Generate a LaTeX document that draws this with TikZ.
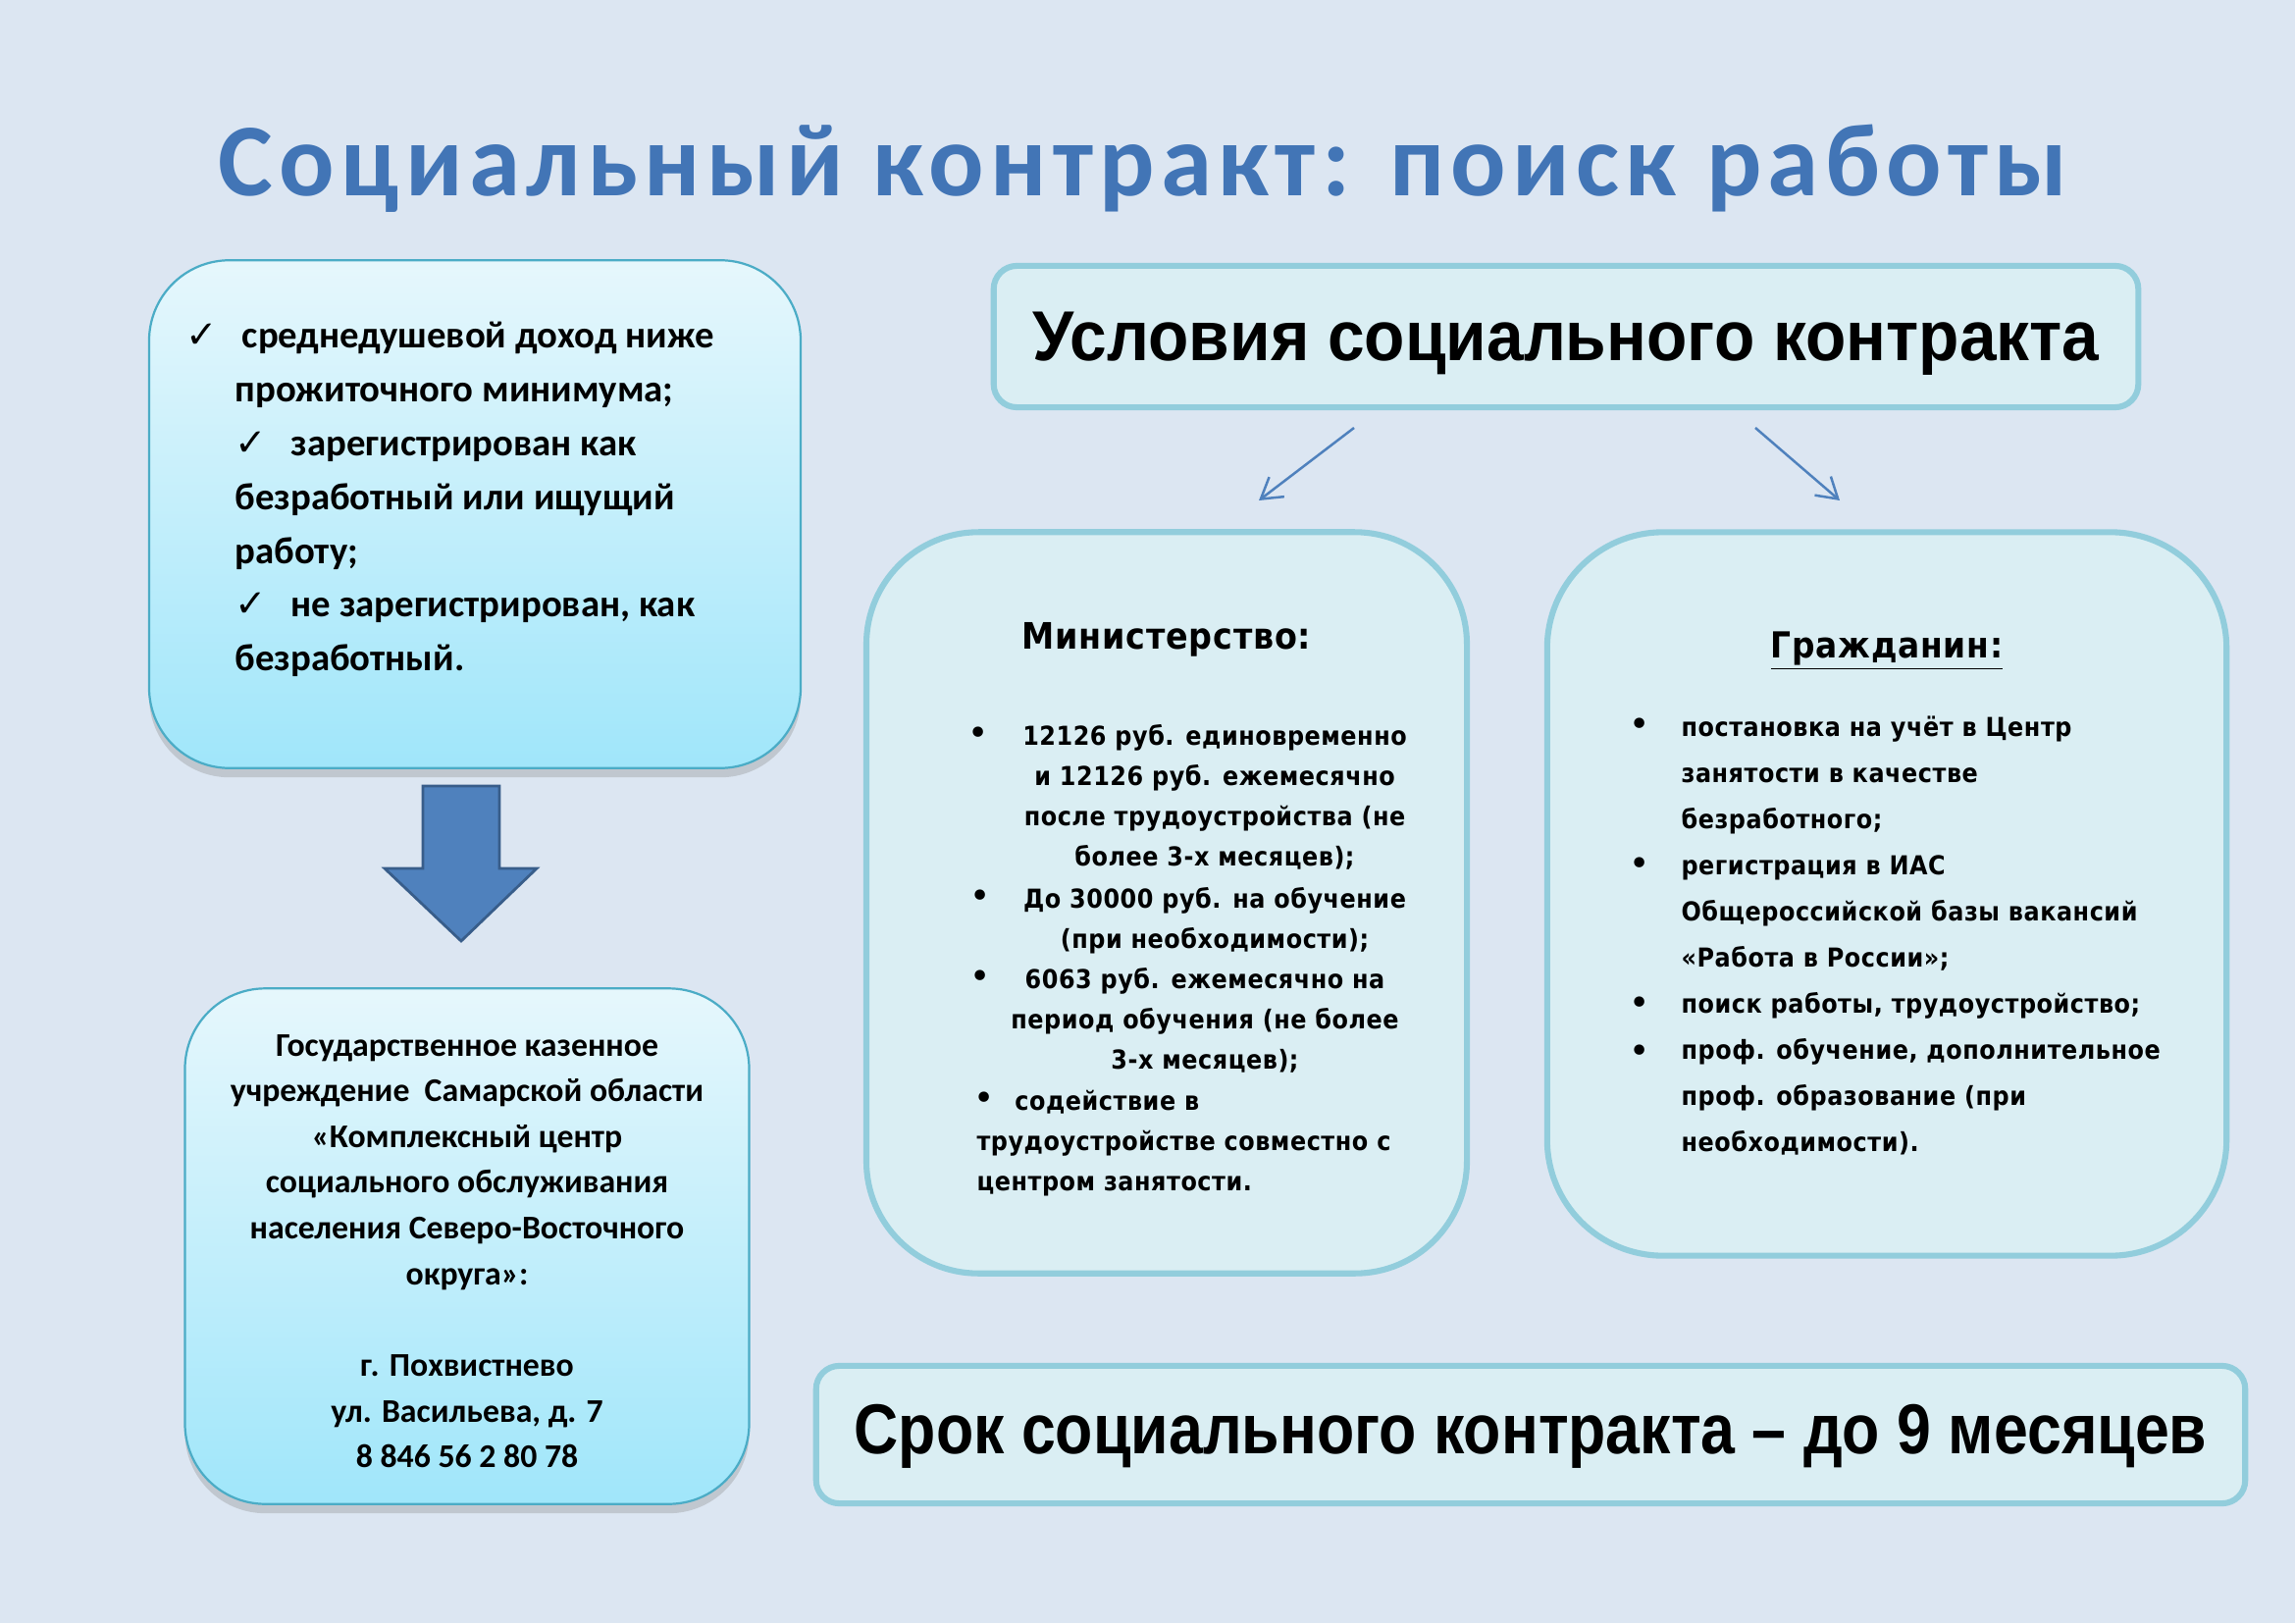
\documentclass[tikz,border=0pt]{standalone}
\usepackage{fontspec}
\setmainfont{Carlito}
\newfontfamily\carl{Carlito}
\newfontfamily\titlefont[LetterSpace=6]{Carlito}
\newfontfamily\narrowfont[FakeStretch=0.87]{Liberation Sans}
\newfontfamily\narrowfontb[FakeStretch=0.94]{Liberation Sans}
\newfontfamily\verdfont[FakeStretch=0.9,LetterSpace=2]{DejaVu Sans}
\newfontfamily\symfont{DejaVu Sans}
\usetikzlibrary{arrows.meta,shadows}
\definecolor{bg}{HTML}{DCE6F2}
\definecolor{lboxtop}{HTML}{E6F7FC}
\definecolor{lboxbot}{HTML}{A0E6FA}
\definecolor{lborder}{HTML}{4BACC6}
\definecolor{rfill}{HTML}{DAEEF3}
\definecolor{rborder}{HTML}{92CDDC}
\definecolor{arrowblue}{HTML}{4F81BD}
\definecolor{arrowdark}{HTML}{385D8A}
\definecolor{titleblue}{HTML}{4275B6}
\newcommand{\chk}{\makebox[20.7pt][l]{\symfont\mdseries ✓}}
\tikzset{
  lbox/.style={draw=lborder, line width=0.8pt, top color=lboxtop, bottom color=lboxbot,
    rounded corners=1.04cm, drop shadow={shadow xshift=0pt, shadow yshift=-1.2mm, opacity=0.3}},
  rbox/.style={draw=rborder, line width=2.2pt, fill=rfill, rounded corners=1.45cm},
  hbox/.style={draw=rborder, line width=2.2pt, fill=rfill, rounded corners=0.3cm},
  txt/.style={inner sep=0pt},
  ltxt/.style={txt, anchor=base west, font=\carl\bfseries\fontsize{14}{19.7}\selectfont},
  mtxt/.style={txt, anchor=base, font=\verdfont\bfseries\fontsize{9.6}{14.87}\selectfont},
  ctxt/.style={txt, anchor=base west, font=\verdfont\bfseries\fontsize{9.6}{17}\selectfont},
  bul/.style={txt, anchor=base, font=\symfont\fontsize{13}{14}\selectfont},
  bigtxt/.style={txt, anchor=base, font=\narrowfont\bfseries\fontsize{26}{30}\selectfont},
  conn/.style={draw=arrowblue, line width=0.9pt, -{Straight Barb[length=2.6mm, width=3.2mm]}}
}
\begin{document}
\begin{tikzpicture}[x=0.0127cm, y=-0.0127cm]
\fill[bg] (0,0) rectangle (2339,1654);
\useasboundingbox (0,0) rectangle (2339,1654);

% title
\node[txt, anchor=base, font=\titlefont\bfseries\fontsize{38}{46}\selectfont, text=titleblue] (title) at (1165,200) {Социальный контракт: поиск работы};

% left boxes
\node[lbox, minimum width=8.43cm, minimum height=6.57cm] (crit) at (484,524) {};
\node[lbox, minimum width=7.30cm, minimum height=6.67cm] (org) at (476,1270) {};

\node[ltxt] (l1) at (189,355) {\chk среднедушевой доход ниже};
\node[ltxt] (l2) at (239,410) {прожиточного минимума;};
\node[ltxt] (l3) at (239,464) {\chk зарегистрирован как};
\node[ltxt] (l4) at (239,519) {безработный или ищущий};
\node[ltxt] (l5) at (239,574) {работу;};
\node[ltxt] (l6) at (239,628) {\chk не зарегистрирован, как};
\node[ltxt] (l7) at (239,683) {безработный.};

% block arrow
\draw[fill=arrowblue, draw=arrowdark, line width=1pt] (431,801) -- (509,801) -- (509,885) -- (547,885) -- (470,959) -- (392,885) -- (431,885) -- cycle;

\node[txt, anchor=base, font=\carl\bfseries\fontsize{12.2}{16.85}\selectfont] (orgtext) at (476,1076)
 {\begin{tabular}[t]{@{}c@{}}
  Государственное казенное\\
  учреждение\ \ Самарской области\\
  «Комплексный центр\\
  социального обслуживания\\
  населения Северо-Восточного\\
  округа»:\\
  \\
  г. Похвистнево\\
  ул. Васильева, д. 7\\
  8 846 56 2 80 78
 \end{tabular}};

% header
\node[hbox, minimum width=14.81cm, minimum height=1.83cm] (cond) at (1596,343) {};
\node[txt, anchor=base, font=\narrowfontb\bfseries\fontsize{26}{30}\selectfont] (condtext) at (1596,368) {Условия социального контракта};

\coordinate (c1a) at (1380,436);
\coordinate (c1b) at (1283,510);
\coordinate (c2a) at (1789,436);
\coordinate (c2b) at (1875,510);
\draw[conn] (c1a) -- (c1b);
\draw[conn] (c2a) -- (c2b);

% ministry
\node[rbox, minimum width=7.77cm, minimum height=9.59cm] (min) at (1189,920) {};
\node[txt, anchor=base, font=\verdfont\bfseries\fontsize{13.4}{15}\selectfont] (minhead) at (1189,661) {Министерство:};
\node[mtxt] (m1) at (1238,759) {\begin{tabular}[t]{@{}c@{}}12126 руб. единовременно\\и 12126 руб. ежемесячно\\после трудоустройства (не\\более 3-х месяцев);\end{tabular}};
\node[mtxt] (m2) at (1238,925) {\begin{tabular}[t]{@{}c@{}}До 30000 руб. на обучение\\(при необходимости);\end{tabular}};
\node[mtxt] (m3) at (1228,1007) {\begin{tabular}[t]{@{}c@{}}6063 руб. ежемесячно на\\период обучения (не более\\3-х месяцев);\end{tabular}};
\node[mtxt, anchor=base west] (m4) at (995,1131) {\begin{tabular}[t]{@{}l@{}}\hspace{14pt}содействие в\\трудоустройстве совместно с\\центром занятости.\end{tabular}};
\node[bul] (mb1) at (997,759) {•};
\node[bul] (mb2) at (999,925) {•};
\node[bul] (mb3) at (999,1007) {•};
\node[bul] (mb4) at (1003,1131) {•};

% citizen
\node[rbox, rounded corners=1.5cm, minimum width=8.79cm, minimum height=9.36cm] (cit) at (1923,911) {};
\node[txt, anchor=base, font=\verdfont\bfseries\fontsize{13.2}{15}\selectfont] (cithead) at (1923,670) {\underline{Гражданин:}};
\node[ctxt] (ctext) at (1713,750) {\begin{tabular}[t]{@{}l@{}}
постановка на учёт в Центр\\
занятости в качестве\\
безработного;\\
регистрация в ИАС\\
Общероссийской базы вакансий\\
«Работа в России»;\\
поиск работы, трудоустройство;\\
проф. обучение, дополнительное\\
проф. образование (при\\
необходимости).\end{tabular}};
\node[bul] (cb1) at (1671,750) {•};
\node[bul] (cb2) at (1671,892) {•};
\node[bul] (cb3) at (1671,1034) {•};
\node[bul] (cb4) at (1671,1083) {•};

% term
\node[hbox, minimum width=18.49cm, minimum height=1.78cm] (term) at (1560,1462) {};
\node[bigtxt] (termtext) at (1560,1481) {Срок социального контракта – до 9 месяцев};
\end{tikzpicture}
\end{document}
